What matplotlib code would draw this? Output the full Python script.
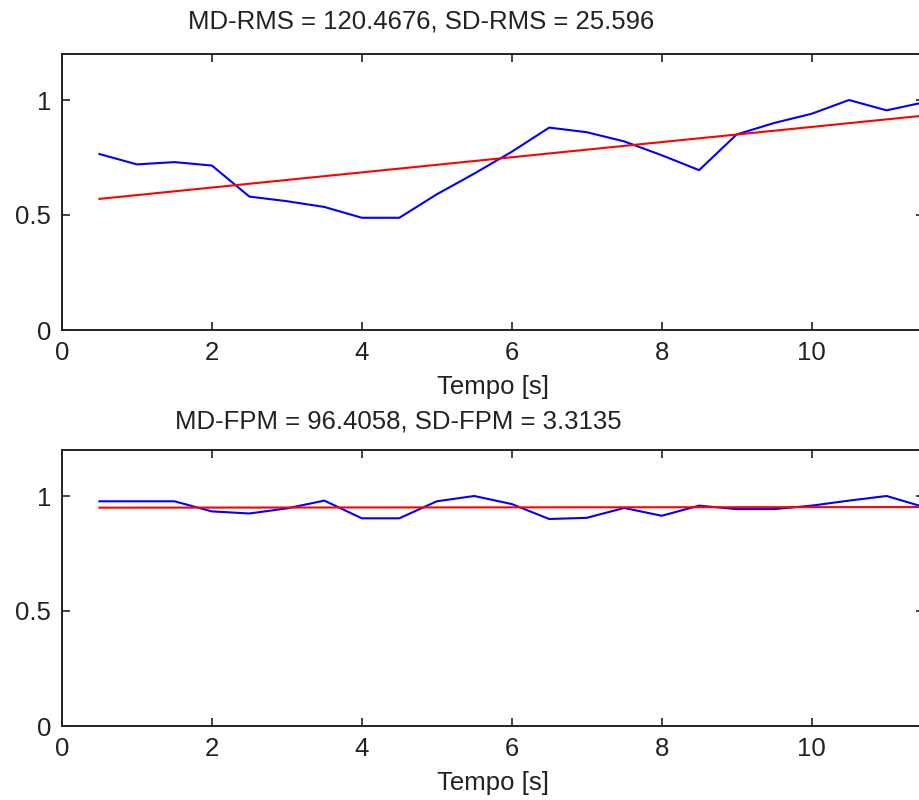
import numpy as np
import matplotlib
matplotlib.use('Agg')
import matplotlib.pyplot as plt

# time axis (s) and normalised signals
t = np.arange(0.5, 11.51, 0.5)
rms = [0.765, 0.72, 0.73, 0.715, 0.58, 0.56, 0.535, 0.488, 0.488, 0.59, 0.68, 0.775,
       0.88, 0.86, 0.82, 0.76, 0.695, 0.85, 0.90, 0.94, 1.0, 0.955, 0.99]
fpm = [0.977, 0.977, 0.977, 0.933, 0.924, 0.946, 0.98, 0.903, 0.903, 0.977, 1.0, 0.965,
       0.90, 0.905, 0.948, 0.914, 0.958, 0.943, 0.943, 0.958, 0.98, 1.0, 0.952]

titles = ['MD-RMS = 120.4676, SD-RMS = 25.596', 'MD-FPM = 96.4058, SD-FPM = 3.3135']
xticks = [0, 2, 4, 6, 8, 10]
yticks = [0, 0.5, 1]
ytick_labels = ['0', '0.5', '1']

plt.rcParams['font.family'] = ['Liberation Sans', 'DejaVu Sans']
fs = 18.5
W, H = 920, 800
fig = plt.figure(figsize=(W / 100, H / 100), dpi=100)

# axes boxes in pixels: left, top, right, bottom
boxes = [(62, 54, 924, 330), (62, 450, 924, 726)]
title_pos = [(421, 22), (398, 421)]

for series, box, title, tp in zip([rms, fpm], boxes, titles, title_pos):
    l, tpx, r, b = box
    ax = fig.add_axes([l / W, 1 - b / H, (r - l) / W, (b - tpx) / H])
    y = np.array(series)
    coef = np.polyfit(t, y, 1)  # red line = linear trend of the signal
    ax.plot(t, y, color='#0000ff', lw=1.5)
    ax.plot(t, np.polyval(coef, t), color='#ff0000', lw=1.5)
    ax.set_xlim(0, 11.5)
    ax.set_ylim(0, 1.2)
    ax.set_xticks(xticks)
    ax.set_yticks(yticks)
    ax.set_yticklabels(ytick_labels)
    ax.tick_params(direction='in', length=6, width=1.2, top=True, right=True,
                   labelsize=fs, pad=8, colors='#222222')
    for s in ax.spines.values():
        s.set_linewidth(1.4)
        s.set_color('#222222')
    ax.set_xlabel('Tempo [s]', fontsize=fs, color='#222222', labelpad=7)
    fig.text(tp[0] / W, 1 - tp[1] / H, title, ha='center', va='center',
             fontsize=fs, color='#222222')

fig.savefig('out.png', dpi=100)
